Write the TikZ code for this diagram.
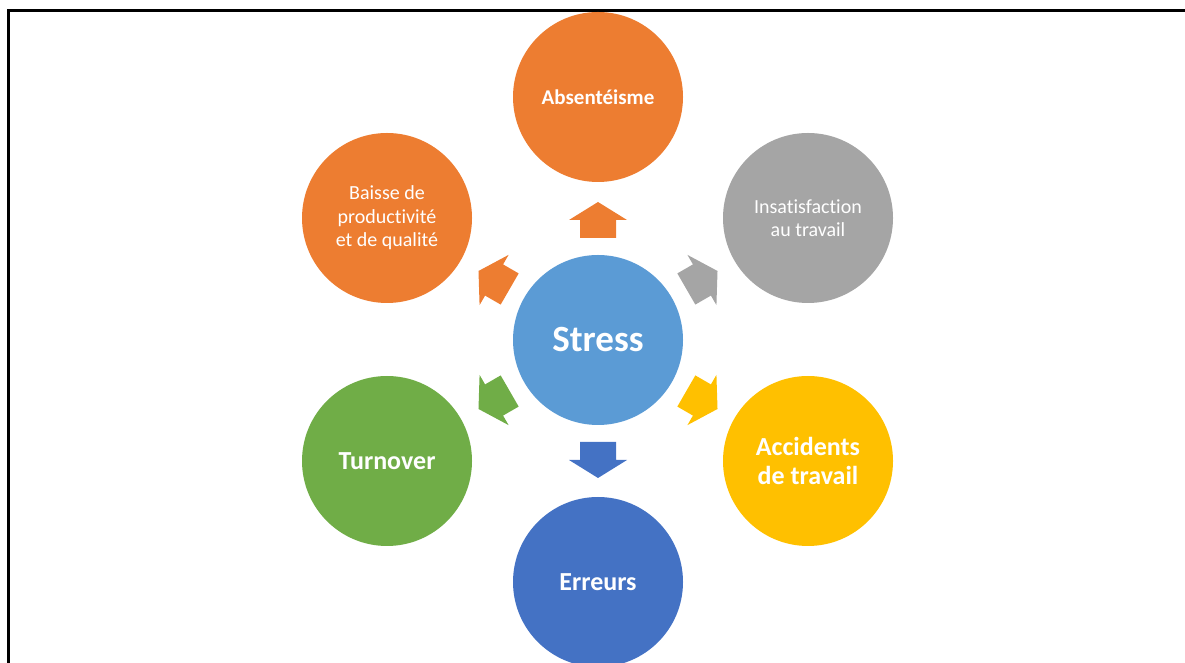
\documentclass[tikz,border=0pt]{standalone}
\usepackage{fontspec}
\setmainfont[Ligatures={NoCommon,NoRequired,NoContextual}]{Carlito}
\definecolor{corange}{HTML}{ED7D31}
\definecolor{cgrey}{HTML}{A5A5A5}
\definecolor{cyellow}{HTML}{FFC000}
\definecolor{cblue}{HTML}{4472C4}
\definecolor{cgreen}{HTML}{70AD47}
\definecolor{clblue}{HTML}{5B9BD5}
\begin{document}
\begin{tikzpicture}[x=1pt,y=1pt,
  bub/.style={circle,minimum size=170pt,inner sep=0pt,text=white,align=center},
  bigb/.style={font=\bfseries\fontsize{26}{29}\selectfont},
  regt/.style={font=\fontsize{20}{23.5}\selectfont},
  blockarrow/.style={fill=#1}]
\useasboundingbox (0,0) rectangle (1185,663);
\begin{scope}
\clip (0,0) rectangle (1185,663);
\draw[line width=3.5pt] (8.5,-5) -- (8.5,652.5) -- (1195,652.5);
\node[bub,fill=clblue,font=\bfseries\fontsize{37}{40}\selectfont] (stress) at (598,323) {Stress};
\node[bub,fill=corange,font=\bfseries\fontsize{21}{24}\selectfont] (abs) at (598,566) {Absentéisme};
\node[bub,fill=corange,regt] (baisse) at (387,445) {Baisse de\\productivité\\et de qualité};
\node[bub,fill=cgrey,regt] (insat) at (808,445) {Insatisfaction\\au travail};
\node[bub,fill=cyellow,bigb] (acc) at (808,202) {Accidents\\de travail};
\node[bub,fill=cgreen,bigb] (turn) at (387,202) {Turnover};
\node[bub,fill=cblue,bigb] (err) at (598,81) {Erreurs};
\foreach \a/\c in {90/corange,150/corange,30/cgrey,-30/cyellow,-90/cblue,-150/cgreen}
  \path[blockarrow=\c,shift={(stress.center)},rotate=\a]
    (102,-18) -- (120,-18) -- (120,-29) -- (138,0) -- (120,29) -- (120,18) -- (102,18) -- cycle;
\end{scope}
\end{tikzpicture}
\end{document}
